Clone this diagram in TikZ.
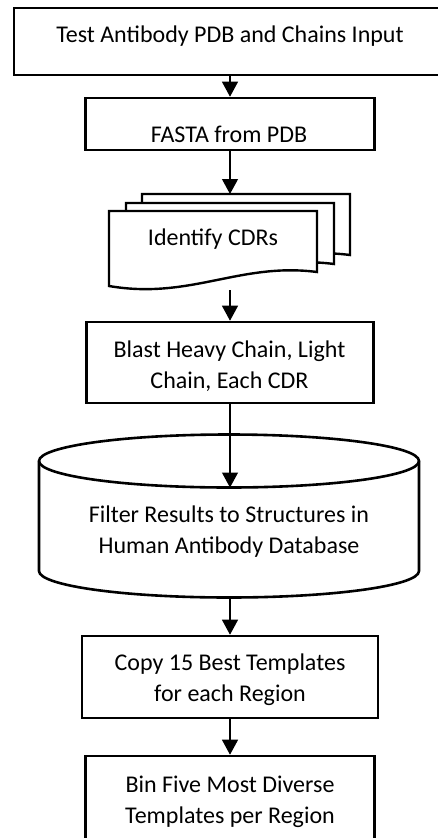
\documentclass[tikz,border=0pt]{standalone}
\usepackage{fontspec}
\setmainfont{Carlito}
\usetikzlibrary{arrows.meta}
\newcommand\tstrut{\rule[-5pt]{0pt}{22pt}}
\begin{document}
\begin{tikzpicture}[x=1pt,y=-1pt,
  boxline/.style={draw=black, line width=2.6pt, fill=white},
  procbox/.style={boxline, rectangle, inner sep=0pt},
  txt/.style={anchor=north, align=center, inner sep=0pt, font=\fontsize{24}{31}\selectfont},
  flow/.style={draw=black, line width=1.2pt, -{Triangle[width=16pt,length=15pt]}},
  docsheet/.pic={\draw[boxline, line width=2.4pt] (0,0) -- (208,0) -- (208,61)
     .. controls (131,51) and (81,89) .. (0,75) -- cycle;}
]
\useasboundingbox (0,0) rectangle (438,838);

% boxes
\node[procbox, minimum width=432pt, minimum height=67pt] (b1) at (230,41.5) {};
\node[txt] (t1) at (230,25) {\tstrut Test Antibody PDB and Chains Input};

\node[procbox, minimum width=289pt, minimum height=52pt] (b2) at (230,124) {};
\node[txt] (t2) at (229,125) {\tstrut FASTA from PDB};

% multi-document
\pic at (142,194) {docsheet};
\pic at (126,203) {docsheet};
\pic at (109,211) {docsheet};
\node[txt] (t3) at (213,228) {\tstrut Identify CDRs};
\coordinate (dtop) at (230,194);
\coordinate (dbot) at (230,290);

\node[procbox, minimum width=287pt, minimum height=81pt] (b4) at (230,362.5) {};
\node[txt] (t4) at (229.5,340) {\tstrut Blast Heavy Chain, Light\\ \tstrut Chain, Each CDR};

% cylinder
\draw[boxline] (39,461) -- (39,571)
  arc[start angle=180,end angle=360,x radius=190pt,y radius=26.5pt] -- (419,461)
  arc[start angle=0,end angle=180,x radius=190pt,y radius=26.5pt] -- cycle;
\draw[line width=2.6pt] (39,461) arc[start angle=180,end angle=360,x radius=190pt,y radius=26.5pt];
\node[txt] (t5) at (229,505) {\tstrut Filter Results to Structures in\\ \tstrut Human Antibody Database};
\coordinate (ctop) at (230,487.5);
\coordinate (cbot) at (230,597.5);

\node[procbox, minimum width=296pt, minimum height=82pt] (b6) at (230,677) {};
\node[txt] (t6) at (230,653) {\tstrut Copy 15 Best Templates\\ \tstrut for each Region};

\node[procbox, minimum width=289pt, minimum height=96pt] (b7) at (230,804) {};
\node[txt] (t7) at (230,775) {\tstrut Bin Five Most Diverse\\ \tstrut Templates per Region};

% connectors
\draw[flow] (b1.south) -- (b2.north);
\draw[flow] (b2.south) -- (dtop);
\draw[flow] (dbot) -- (b4.north);
\draw[flow] (b4.south) -- (ctop);
\draw[flow] (cbot) -- (b6.north);
\draw[flow] (b6.south) -- (b7.north);
\end{tikzpicture}
\end{document}
